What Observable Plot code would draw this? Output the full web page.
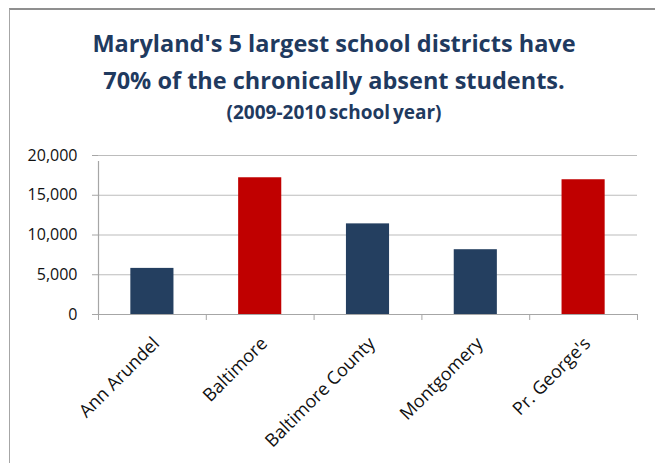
<!DOCTYPE html>
<html><head><meta charset="utf-8">
<script src="https://cdn.jsdelivr.net/npm/d3@7"></script>
<script src="https://cdn.jsdelivr.net/npm/@observablehq/plot@0.6"></script>
<style>
body{margin:0;background:#fff;}
#wrap{position:relative;width:655px;height:463px;overflow:hidden;font-family:"Open Sans",sans-serif;background:#fff;}
#frame{position:absolute;left:9px;top:8px;width:700px;height:500px;border-left:1px solid #a6a6a6;border-top:2px solid #8f8f8f;box-sizing:border-box;}
.t{position:absolute;left:9px;width:650px;text-align:center;color:#1f3a5f;font-weight:700;white-space:nowrap;}
#t1{top:27px;font-size:23.5px;line-height:32px;}
#t2{top:64px;font-size:23.5px;line-height:32px;}
#t3{top:100px;font-size:19px;line-height:24px;font-weight:700;word-spacing:-2px;}
#chart{position:absolute;left:0;top:140px;}
</style></head>
<body><div id="wrap"><div id="frame"></div>
<div class="t" id="t1">Maryland's 5 largest school districts have</div>
<div class="t" id="t2">70% of the chronically absent students.</div>
<div class="t" id="t3">(2009-2010 school year)</div>
<div id="chart"></div></div>
<script>
const districts = ["Ann Arundel", "Baltimore", "Baltimore County", "Montgomery", "Pr. George's"];
const absent = [5800, 17200, 11400, 8150, 16950];
const barColors = ["#243f60", "#c00000", "#243f60", "#243f60", "#c00000"];
const yTicks = [0, 5000, 10000, 15000, 20000];

const data = districts.map((d, i) => ({district: d, value: absent[i]}));

const W = 655, H = 323, mL = 98, mR = 18, mT = 15, mB = 149;
const plotW = W - mL - mR;
const step = plotW / districts.length;
const axisGrey = "#a6a6a6";

const chart = Plot.plot({
  width: W, height: H,
  marginLeft: mL, marginRight: mR, marginTop: mT, marginBottom: mB,
  style: {fontFamily: "'Open Sans', sans-serif", background: "transparent", overflow: "visible"},
  x: {type: "band", domain: districts, paddingInner: 0.6, paddingOuter: 0.3, round: false, axis: null},
  y: {domain: [0, 20000], axis: null},
  color: {domain: districts, range: barColors},
  marks: [
    Plot.ruleY(yTicks.slice(1), {stroke: "#bcbcbc", strokeWidth: 1.2}),
    Plot.ruleY(yTicks, {stroke: axisGrey, insetLeft: -6, insetRight: plotW}),
    Plot.barY(data, {x: "district", y: "value", fill: "district"}),
    Plot.ruleY([0], {stroke: axisGrey, strokeWidth: 1.2}),
    Plot.ruleX(districts, {x: d => d, y1: 0, y2: 0, dx: -step / 2, insetBottom: -6, stroke: axisGrey}),
    Plot.ruleX(districts.slice(-1), {x: d => d, y1: 0, y2: 0, dx: step / 2, insetBottom: -6, stroke: axisGrey}),
    Plot.ruleX(districts.slice(0, 1), {x: d => d, y1: 0, y2: 20000, dx: -step / 2, insetBottom: -6, stroke: axisGrey, strokeWidth: 1.2}),
    Plot.text(yTicks, {y: d => d, text: d => d3.format(",")(d), frameAnchor: "left", textAnchor: "end", dx: -21, fontSize: 16, fill: "#111"}),
    Plot.text(data, {x: "district", y: 0, text: "district", rotate: -45, textAnchor: "end", dx: 4, dy: 26, fontSize: 18, fill: "#111"})
  ]
});
document.getElementById("chart").appendChild(chart);
</script>
</body></html>
